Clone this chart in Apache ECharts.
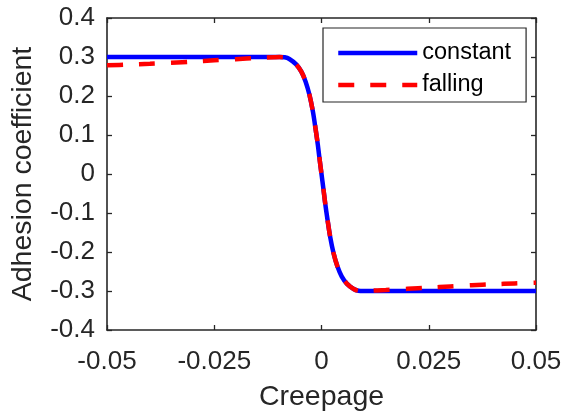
<!DOCTYPE html>
<html>
<head>
<meta charset="utf-8">
<script src="https://cdn.jsdelivr.net/npm/echarts@6/dist/echarts.min.js"></script>
<style>
  html, body { margin: 0; padding: 0; background: #fff; }
  #chart { width: 562px; height: 411px; }
</style>
</head>
<body>
<div id="chart"></div>
<script>
// Adhesion coefficient vs. creepage for two friction laws
const seriesNames = ['constant', 'falling'];

const constantX = [-0.05, -0.0098, -0.0086, -0.0075, -0.0059, -0.0047, -0.0037, -0.0028, -0.002, -0.0014, -0.00085, -0.00047, 0,
  0.00047, 0.00085, 0.0014, 0.002, 0.0028, 0.0037, 0.0047, 0.0059, 0.0075, 0.0086, 0.0098, 0.05];
const constantY = [0.3, 0.3, 0.2992, 0.2949, 0.281, 0.2624, 0.2368, 0.2026, 0.1598, 0.1171, 0.0744, 0.0402, 0,
  -0.0402, -0.0744, -0.1171, -0.1598, -0.2026, -0.2368, -0.2624, -0.281, -0.2949, -0.2992, -0.3, -0.3];

const fallingX = [-0.05, -0.045, -0.04, -0.035, -0.03, -0.025, -0.02, -0.015, -0.011, -0.0098, -0.0086, -0.0075, -0.0059, -0.0047,
  -0.0037, -0.0028, -0.002, -0.0014, -0.00085, -0.00047, 0, 0.00047, 0.00085, 0.0014, 0.002, 0.0028, 0.0037, 0.0047, 0.0059,
  0.0075, 0.0086, 0.0098, 0.011, 0.015, 0.02, 0.025, 0.03, 0.035, 0.04, 0.045, 0.05];
const fallingY = [0.2787, 0.2806, 0.2828, 0.2853, 0.2882, 0.2915, 0.2945, 0.2975, 0.2993, 0.2997, 0.2992, 0.2949, 0.281, 0.2624,
  0.2368, 0.2026, 0.1598, 0.1171, 0.0744, 0.0402, 0, -0.0402, -0.0744, -0.1171, -0.1598, -0.2026, -0.2368, -0.2624, -0.281,
  -0.2949, -0.2992, -0.2997, -0.2993, -0.2975, -0.2945, -0.2915, -0.2882, -0.2853, -0.2828, -0.2806, -0.2787];

const xTickLabels = ['-0.05', '-0.025', '0', '0.025', '0.05'];
const yTickLabels = ['-0.4', '-0.3', '-0.2', '-0.1', '0', '0.1', '0.2', '0.3', '0.4'];

const X_MIN = -0.05, X_MAX = 0.05, X_STEP = 0.025;
const Y_MIN = -0.4, Y_MAX = 0.4, Y_STEP = 0.1;

const AXIS_COLOR = '#262626';
const FONT = '"Liberation Sans", Arial, Helvetica, sans-serif';
const LINE_W = 4.5;

function zip(xs, ys) { return xs.map((x, i) => [x, ys[i]]); }
function tickLabel(list, min, step) {
  return v => list[Math.round((v - min) / step)] ?? '';
}

const frameLine = { show: true, onZero: false, lineStyle: { color: AXIS_COLOR, width: 1.6 } };
const innerTick = { show: true, inside: true, length: 5, lineStyle: { color: AXIS_COLOR, width: 1.3 } };

const chart = echarts.init(document.getElementById('chart'), null, { renderer: 'canvas' });
chart.setOption({
  animation: false,
  backgroundColor: '#ffffff',
  grid: { left: 107, right: 26, top: 18, bottom: 81, outerBoundsMode: 'none', containLabel: false },
  xAxis: [
    {
      type: 'value', position: 'bottom', min: X_MIN, max: X_MAX, interval: X_STEP,
      axisLine: frameLine, axisTick: innerTick, splitLine: { show: false },
      axisLabel: {
        color: AXIS_COLOR, fontSize: 26, fontFamily: FONT, margin: 19,
        formatter: tickLabel(xTickLabels, X_MIN, X_STEP)
      },
      name: 'Creepage', nameLocation: 'middle', nameGap: 53,
      nameTextStyle: { color: AXIS_COLOR, fontSize: 28.5, fontFamily: FONT }
    },
    {
      type: 'value', position: 'top', min: X_MIN, max: X_MAX, interval: X_STEP,
      axisLine: frameLine, axisTick: innerTick, axisLabel: { show: false }, splitLine: { show: false }
    }
  ],
  yAxis: [
    {
      type: 'value', position: 'left', min: Y_MIN, max: Y_MAX, interval: Y_STEP,
      axisLine: frameLine, axisTick: innerTick, splitLine: { show: false },
      axisLabel: {
        color: AXIS_COLOR, fontSize: 26, fontFamily: FONT, margin: 12,
        formatter: tickLabel(yTickLabels, Y_MIN, Y_STEP)
      },
      name: 'Adhesion coefficient', nameLocation: 'middle', nameGap: 69,
      nameTextStyle: { color: AXIS_COLOR, fontSize: 28.5, fontFamily: FONT }
    },
    {
      type: 'value', position: 'right', min: Y_MIN, max: Y_MAX, interval: Y_STEP,
      axisLine: frameLine, axisTick: innerTick, axisLabel: { show: false }, splitLine: { show: false }
    }
  ],
  legend: {
    orient: 'vertical', left: 323, top: 28,
    data: seriesNames,
    itemWidth: 79, itemHeight: 14, itemGap: 8,
    padding: [13, 15, 5, 13],
    borderColor: AXIS_COLOR, borderWidth: 1.2,
    backgroundColor: '#ffffff',
    itemStyle: { opacity: 0 },
    lineStyle: { width: LINE_W },
    textStyle: { color: '#000000', fontSize: 23.5, fontFamily: FONT },
    selectedMode: false
  },
  series: [
    {
      name: seriesNames[0], type: 'line', data: zip(constantX, constantY),
      showSymbol: false, symbol: 'none', smooth: 0.3,
      lineStyle: { color: '#0000ff', width: LINE_W }, itemStyle: { color: '#0000ff' }, z: 2
    },
    {
      name: seriesNames[1], type: 'line', data: zip(fallingX, fallingY),
      showSymbol: false, symbol: 'none', smooth: 0.3,
      lineStyle: { color: '#ff0000', width: LINE_W, type: [16, 16], cap: 'butt' }, itemStyle: { color: '#ff0000' }, z: 3
    }
  ]
});
</script>
</body>
</html>
